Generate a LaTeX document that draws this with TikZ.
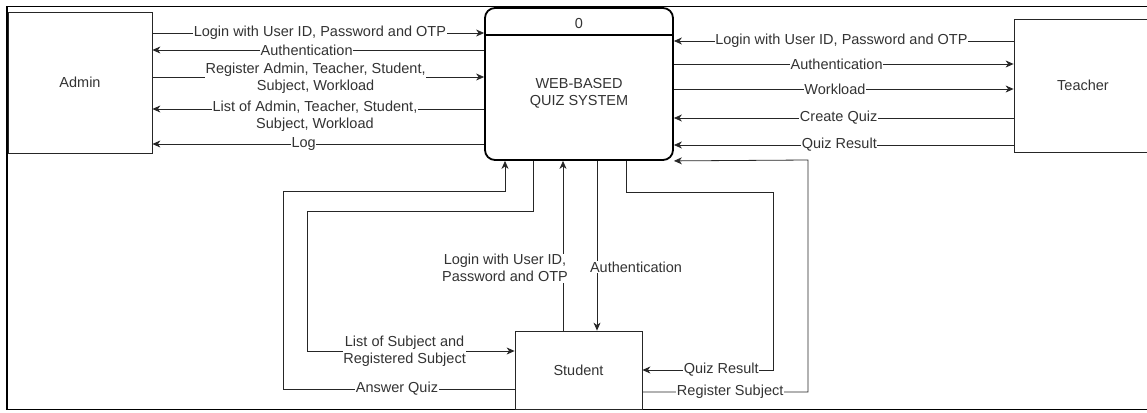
\documentclass[tikz,border=0pt]{standalone}
\usepackage{fontspec}
\setmainfont{Liberation Sans}
\usetikzlibrary{arrows.meta,calc}
\begin{document}
\begin{tikzpicture}[x=1pt,y=-1pt,
  font=\fontsize{14.5}{17}\selectfont,
  every node/.style={text=black!80},
  box/.style={draw=black!85, line width=0.8pt, inner sep=0pt},
  arr/.style={draw=black!85, line width=0.8pt, -{Stealth[length=8pt,width=7pt,inset=2.5pt]}},
  lbl/.style={fill=white, inner sep=0.6pt, align=center},
]
\useasboundingbox (0,0) rectangle (1147,412);
\clip (0,0) rectangle (1147,412);
% outer frame
\draw[line width=1.6pt] (7,6.5) rectangle (1170,409.5);

% nodes
\node[box, minimum width=144pt, minimum height=141pt] (admin) at (80,82.5) {Admin};
\node[box, minimum width=138pt, minimum height=133pt] (teacher) at (1083,85.5) {Teacher};
\node[box, minimum width=127pt, minimum height=78pt] (student) at (578.5,370) {Student};
\node[draw=black, line width=1.8pt, rounded corners=10pt, minimum width=188pt, minimum height=152pt, inner sep=0pt] (proc) at (579,84) {};
\draw[line width=1.3pt] ($(proc.north west)+(0,28)$) coordinate (divl) -- ($(proc.north east)+(0,28)$) coordinate (divr);
\node (procnum) at (579,23.5) {0};
\node[align=center] (procname) at (579,93) {WEB-BASED\\QUIZ SYSTEM};

% Admin flows
\draw[arr] (admin.east |- 0,33) -- node[lbl,pos=0.505]{Login with User ID, Password and OTP} (proc.west |- 0,33);
\draw[arr] (proc.west |- 0,50) -- node[lbl,pos=0.535]{Authentication} (admin.east |- 0,50);
\draw[arr] (admin.east |- 0,77) -- node[lbl,pos=0.492,yshift=-1pt]{Register Admin, Teacher, Student,\\Subject, Workload} (proc.west |- 0,77);
\draw[arr] (proc.west |- 0,109) -- node[lbl,pos=0.51,yshift=-7.5pt]{List of Admin, Teacher, Student,\\Subject, Workload} (admin.east |- 0,109);
\draw[arr] (proc.west |- 0,144) -- node[lbl,pos=0.544]{Log} (admin.east |- 0,144);

% Teacher flows
\draw[arr] (teacher.west |- 0,41) -- node[lbl,pos=0.507]{Login with User ID, Password and OTP} (proc.east |- 0,41);
\draw[arr] (proc.east |- 0,64) -- node[lbl,pos=0.479]{Authentication} (teacher.west |- 0,64);
\draw[arr] (proc.east |- 0,89) -- node[lbl,pos=0.474]{Workload} (teacher.west |- 0,89);
\draw[arr] (teacher.west |- 0,118) -- node[lbl,pos=0.515]{Create Quiz} (proc.east |- 0,118);
\draw[arr] (teacher.west |- 0,145) -- node[lbl,pos=0.513]{Quiz Result} (proc.east |- 0,145);

% Student flows
\draw[arr] (student.west |- 0,389) -| node[lbl,pos=0.254]{Answer Quiz} (283,191) -| (proc.south -| 505,0);
\draw[arr] (proc.south -| 533,0) |- (307,211) |- node[lbl,pos=0.735]{List of Subject and\\Registered Subject} (student.west |- 0,351);
\draw[arr] (student.north -| 563,0) -- node[lbl,pos=0.368,xshift=-58pt]{Login with User ID,\\Password and OTP} (proc.south -| 563,0);
\draw[arr] (proc.south -| 597,0) -- node[lbl,pos=0.625,xshift=39pt]{Authentication} (student.north -| 597,0);
\draw[arr] (proc.south -| 626,0) |- (773,192) |- node[lbl,pos=0.698]{Quiz Result} (student.east |- 0,370);
\draw[arr] (student.east |- 0,392) -| node[lbl,pos=0.265]{Register Subject} (808,160) -- (proc.south east);
\end{tikzpicture}
\end{document}
